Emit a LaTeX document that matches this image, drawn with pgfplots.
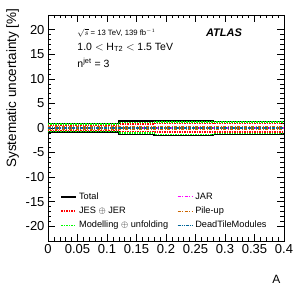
\documentclass[border=0pt]{standalone}
\usepackage{pgfplots}
\pgfplotsset{compat=1.18}
\usepackage{fontspec}
\setmainfont{Liberation Sans}
\definecolor{pu}{RGB}{204,102,0}
\definecolor{dt}{RGB}{0,102,153}
\definecolor{mg}{RGB}{255,0,255}
\definecolor{gr}{RGB}{0,255,0}
\begin{document}
\begin{tikzpicture}
\useasboundingbox (-48pt,-47pt) rectangle (252pt,241pt);
\begin{axis}[
  scale only axis, width=236pt, height=226pt,
  xmin=0, xmax=0.4, ymin=-23, ymax=23,
  xtick={0,0.05,...,0.4}, xticklabels={0,0.05,0.1,0.15,0.2,0.25,0.3,0.35,0.4},
  ytick={-20,-15,...,20}, yticklabels={-20,-15,-10,-5,0,5,10,15,20},
  minor x tick num=4, minor y tick num=4,
  tick align=inside, xtick pos=both, ytick pos=both,
  major tick length=7pt, minor tick length=3.5pt,
  tick style={black, line width=0.5pt},
  ticklabel style={font=\fontsize{13}{13}\selectfont},
  /pgf/number format/assume math mode=true,
  ylabel={Systematic uncertainty [\%]},
  ylabel style={font=\fontsize{13.5}{13.5}\selectfont, at={(axis description cs:-0.15,1.044)}, anchor=east},
  xlabel={A},
  xlabel style={font=\fontsize{12}{12}\selectfont, at={(axis description cs:1,0)}, anchor=north east, yshift=-31pt},
  axis line style={black, line width=0.6pt},
  legend columns=2,
  legend style={at={(axis description cs:0.04,0.033)}, anchor=south west, draw=none, fill=none,
    font=\fontsize{9.2}{9.2}\selectfont, row sep=2pt,
    /tikz/every even column/.append style={column sep=7pt}},
  legend cell align=left,
  legend image code/.code={\draw (0pt,0pt) -- (15pt,0pt);},
  const plot, no marks,
]
\addplot[black, line width=1.5pt] coordinates {(0,0.95) (0.12,1.4) (0.18,1.4) (0.28,1.35) (0.4,1.35)};
\addlegendentry{Total}
\addplot[mg, line width=1.1pt, dash pattern=on 3pt off 1.5pt on 1pt off 1.5pt] coordinates {(0,0.1) (0.12,0.12) (0.18,0.1) (0.28,0.1) (0.4,0.1)};
\addlegendentry{JAR}
\addplot[red, line width=1.2pt, dash pattern=on 1.5pt off 1pt] coordinates {(0,0.6) (0.12,0.8) (0.18,0.85) (0.28,0.85) (0.4,0.85)};
\addlegendentry{JES $\oplus$ JER}
\addplot[pu, line width=1.1pt, dash pattern=on 3pt off 1.5pt on 1pt off 1.5pt] coordinates {(0,0.2) (0.12,0.2) (0.18,0.2) (0.28,0.2) (0.4,0.2)};
\addlegendentry{Pile-up}
\addplot[gr, line width=1.2pt, dash pattern=on 1.5pt off 1pt] coordinates {(0,0.8) (0.12,1.1) (0.18,1.2) (0.28,1.2) (0.4,1.2)};
\addlegendentry{Modelling $\oplus$ unfolding}
\addplot[dt, line width=1.1pt, dash pattern=on 3pt off 1pt on 1pt off 1pt on 1pt off 1pt] coordinates {(0,0.05) (0.12,0.05) (0.18,0.05) (0.28,0.05) (0.4,0.05)};
\addlegendentry{DeadTileModules}
\addplot[black, line width=1.5pt, forget plot] coordinates {(0,-0.8) (0.12,-1.3) (0.18,-1.5) (0.28,-1.3) (0.4,-1.3)};
\addplot[red, line width=1.2pt, dash pattern=on 1.5pt off 1pt, forget plot] coordinates {(0,-0.5) (0.12,-0.7) (0.18,-0.8) (0.28,-0.8) (0.4,-0.8)};
\addplot[gr, line width=1.2pt, dash pattern=on 1.5pt off 1pt, forget plot] coordinates {(0,-0.7) (0.12,-1.0) (0.18,-1.3) (0.28,-1.1) (0.4,-1.1)};
\addplot[mg, line width=1.1pt, dash pattern=on 3pt off 1.5pt on 1pt off 1.5pt, forget plot] coordinates {(0,-0.1) (0.12,-0.12) (0.18,-0.1) (0.28,-0.1) (0.4,-0.1)};
\addplot[pu, line width=1.1pt, dash pattern=on 3pt off 1.5pt on 1pt off 1.5pt, forget plot] coordinates {(0,-0.2) (0.12,-0.2) (0.18,-0.2) (0.28,-0.2) (0.4,-0.2)};
\addplot[dt, line width=1.1pt, dash pattern=on 3pt off 1pt on 1pt off 1pt on 1pt off 1pt, forget plot] coordinates {(0,-0.05) (0.12,-0.05) (0.18,-0.05) (0.28,-0.05) (0.4,-0.05)};
\node[anchor=west, font=\fontsize{7.7}{7.7}\selectfont] at (axis cs:0.044,19.4) {$\sqrt{s}$ = 13 TeV, 139 fb$^{-1}$};
\node[anchor=west, font=\fontsize{10.5}{10.5}\selectfont] at (axis cs:0.044,16.4) {1.0 $<$ H$_{\mathrm{T2}}$ $<$ 1.5 TeV};
\node[anchor=west, font=\fontsize{10.5}{10.5}\selectfont] at (axis cs:0.044,13.3) {n$^{\mathrm{jet}}$ = 3};
\node[anchor=west, font=\fontsize{11}{11}\selectfont\bfseries\itshape] at (axis cs:0.262,19.4) {ATLAS};
\end{axis}
\end{tikzpicture}
\end{document}
